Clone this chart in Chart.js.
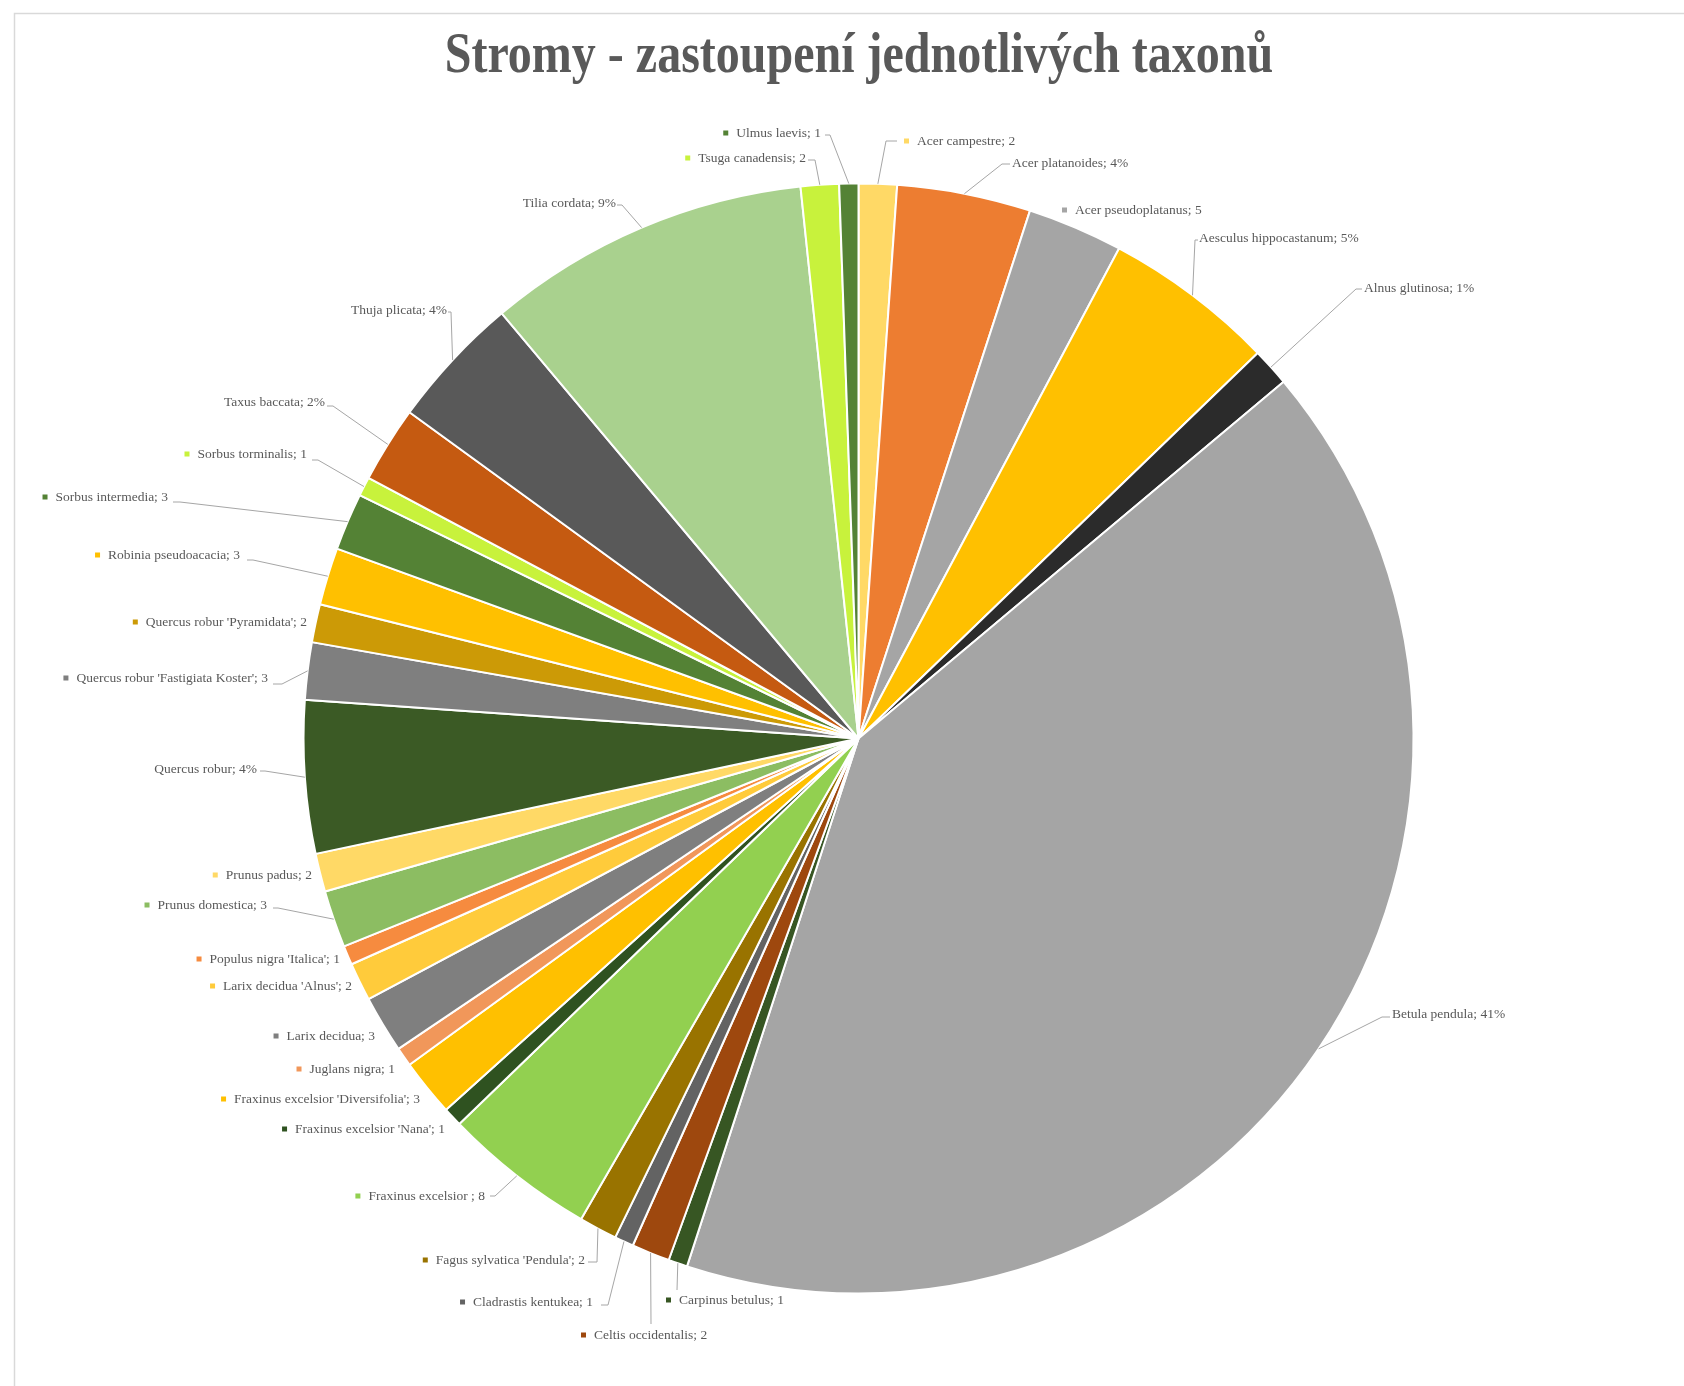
<!DOCTYPE html>
<html><head><meta charset="utf-8">
<script src="https://cdn.jsdelivr.net/npm/chart.js@4"></script>
<style>html,body{margin:0;padding:0;background:#fff}canvas{display:block}</style>
</head><body>
<canvas id="c" width="1684" height="1386" style="width:1684px;height:1386px"></canvas>
<script>
const chartTitle = 'Stromy - zastoupení jednotlivých taxonů';
const categories = [
  "Acer campestre", "Acer platanoides", "Acer pseudoplatanus", "Aesculus hippocastanum",
  "Alnus glutinosa", "Betula pendula", "Carpinus betulus", "Celtis occidentalis",
  "Cladrastis kentukea", "Fagus sylvatica 'Pendula'", "Fraxinus excelsior ", "Fraxinus excelsior 'Nana'",
  "Fraxinus excelsior 'Diversifolia'", "Juglans nigra", "Larix decidua", "Larix decidua 'Alnus'",
  "Populus nigra 'Italica'", "Prunus domestica", "Prunus padus", "Quercus robur",
  "Quercus robur 'Fastigiata Koster'", "Quercus robur 'Pyramidata'", "Robinia pseudoacacia", "Sorbus intermedia",
  "Sorbus torminalis", "Taxus baccata", "Thuja plicata", "Tilia cordata",
  "Tsuga canadensis", "Ulmus laevis"
];
const counts = [2, 7, 5, 9, 2, 74, 1, 2, 1, 2, 8, 1, 3, 1, 3, 2, 1, 3, 2, 8, 3, 2, 3, 3, 1, 4, 7, 17, 2, 1];
const showPercent = [false, true, false, true, true, true, false, false, false, false, false, false,
  false, false, false, false, false, false, false, true, false, false, false, false, false, true, true, true, false, false];
const sliceColors = [
  "#FFD966", "#ED7D31", "#A5A5A5", "#FFC000", "#2B2B2B", "#A5A5A5", "#375623", "#9E480E",
  "#636363", "#997300", "#92D050", "#2F5220", "#FFC000", "#F1975A", "#7F7F7F", "#FFCB3B",
  "#F68B3F", "#8CBD62", "#FFD966", "#3B5A25", "#7F7F7F", "#CC9A06", "#FFC000", "#548235",
  "#C8F23C", "#C55A11", "#595959", "#A9D18E", "#C8F23C", "#548235"
];
// label layout (page pixels): text anchor, alignment, leader [elbowX, elbowY, endX, endY]
const labelLayout = [
  {x:917,y:141,a:'left',l:[886,141,897,141]},
  {x:1012,y:163,a:'left',l:[1002,164,1010,164]},
  {x:1075,y:210,a:'left',l:null},
  {x:1199,y:238,a:'left',l:[1195,240,1198,240]},
  {x:1364,y:288,a:'left',l:[1356,289,1362,289]},
  {x:1392,y:1014,a:'left',l:[1382,1017,1390,1017]},
  {x:679,y:1300,a:'left',l:[677,1290,677,1290]},
  {x:594,y:1335,a:'left',l:[651,1324,651,1324]},
  {x:593,y:1302,a:'right',l:[608,1305,601,1305]},
  {x:585,y:1260,a:'right',l:[597,1262,588,1262]},
  {x:485,y:1196,a:'right',l:[495,1196,490,1196]},
  {x:445,y:1129,a:'right',l:null},
  {x:420,y:1099,a:'right',l:null},
  {x:395,y:1069,a:'right',l:null},
  {x:375,y:1036,a:'right',l:null},
  {x:352,y:986,a:'right',l:null},
  {x:340,y:959,a:'right',l:null},
  {x:267,y:905,a:'right',l:[278,908,273,908]},
  {x:312,y:875,a:'right',l:null},
  {x:257,y:769,a:'right',l:[265,771,260,771]},
  {x:268,y:678,a:'right',l:[282,684,273,684]},
  {x:307,y:622,a:'right',l:null},
  {x:240,y:555,a:'right',l:[253,560,247,560]},
  {x:168,y:497,a:'right',l:[180,502,173,502]},
  {x:307,y:454,a:'right',l:[318,460,312,460]},
  {x:325,y:402,a:'right',l:[333,406,327,406]},
  {x:447,y:310,a:'right',l:[451,312,448,312]},
  {x:616,y:203,a:'right',l:[622,205,617,205]},
  {x:806,y:158,a:'right',l:[815,160,808,160]},
  {x:821,y:133,a:'right',l:[830,135,825,135]}
];

const total = counts.reduce((a, b) => a + b, 0);
const labelFont = '13.5px "Liberation Serif", "Times New Roman", serif';
const textColor = '#595959';

const framePlugin = {
  id: 'frame',
  beforeDraw(chart) {
    const ctx = chart.ctx;
    ctx.save();
    ctx.fillStyle = '#ffffff';
    ctx.fillRect(0, 0, chart.width, chart.height);
    ctx.strokeStyle = '#d9d9d9';
    ctx.lineWidth = 1.5;
    ctx.beginPath();
    ctx.moveTo(14.5, chart.height);
    ctx.lineTo(14.5, 13.5);
    ctx.lineTo(chart.width, 13.5);
    ctx.stroke();
    // title, slightly tall like the reference
    ctx.fillStyle = textColor;
    ctx.font = 'bold 48px "Liberation Serif", "Times New Roman", serif';
    ctx.textAlign = 'center';
    ctx.textBaseline = 'alphabetic';
    ctx.scale(1, 1.2);
    ctx.fillText(chartTitle, 859, 72 / 1.2);
    ctx.restore();
  }
};

const labelPlugin = {
  id: 'sliceLabels',
  afterDatasetsDraw(chart) {
    const ctx = chart.ctx;
    const meta = chart.getDatasetMeta(0);
    ctx.save();
    ctx.font = labelFont;
    ctx.textBaseline = 'middle';
    meta.data.forEach((arc, i) => {
      const lay = labelLayout[i];
      const mid = (arc.startAngle + arc.endAngle) / 2;
      const rx = arc.x + Math.cos(mid) * arc.outerRadius;
      const ry = arc.y + Math.sin(mid) * arc.outerRadius;
      if (lay.l) {
        ctx.strokeStyle = '#a6a6a6';
        ctx.lineWidth = 1;
        ctx.beginPath();
        ctx.moveTo(rx, ry);
        ctx.lineTo(lay.l[0], lay.l[1]);
        ctx.lineTo(lay.l[2], lay.l[3]);
        ctx.stroke();
      }
      const val = counts[i];
      const txt = categories[i] + '; ' + (showPercent[i] ? Math.round(val / total * 100) + '%' : val);
      const w = ctx.measureText(txt).width;
      const startX = lay.a === 'left' ? lay.x : lay.x - w;
      ctx.fillStyle = textColor;
      ctx.textAlign = 'left';
      ctx.fillText(txt, startX, lay.y);
      if (!showPercent[i]) {
        ctx.fillStyle = sliceColors[i];
        ctx.fillRect(startX - 13, lay.y - 2.5, 5, 5);
      }
    });
    ctx.restore();
  }
};

new Chart(document.getElementById('c'), {
  type: 'pie',
  data: {
    labels: categories,
    datasets: [{
      data: counts,
      backgroundColor: sliceColors,
      borderColor: '#ffffff',
      borderWidth: 2
    }]
  },
  options: {
    responsive: false,
    animation: false,
    radius: 555,
    layout: { padding: { left: 33, right: 0, top: 91, bottom: 0 } },
    plugins: {
      legend: { display: false },
      tooltip: { enabled: false },
      title: { display: false }
    }
  },
  plugins: [framePlugin, labelPlugin]
});
</script>
</body></html>
